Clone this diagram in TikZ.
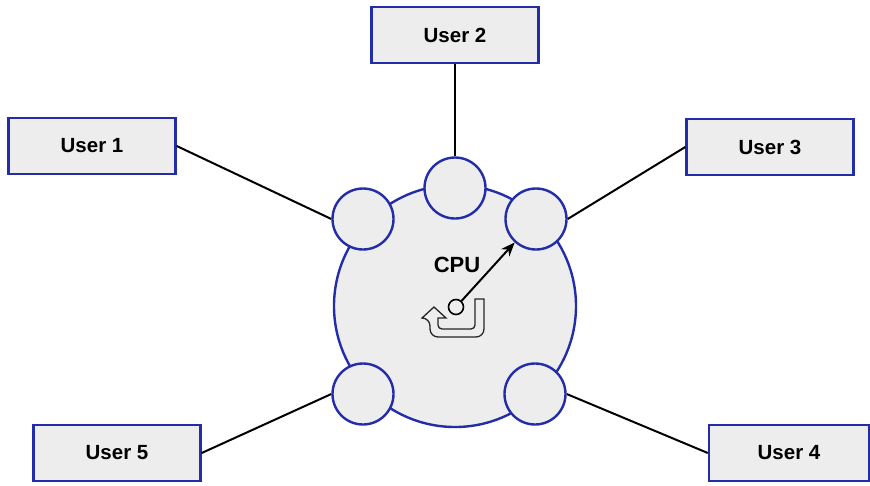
\documentclass[tikz,border=0pt]{standalone}
\usepackage{fontspec}
\setmainfont{Liberation Sans}
\usetikzlibrary{arrows.meta}

\definecolor{boxblue}{RGB}{35,45,170}
\definecolor{boxgray}{RGB}{237,237,237}

\begin{document}
\begin{tikzpicture}[x=1pt, y=-1pt,
    user/.style={draw=boxblue, fill=boxgray, line width=2.4pt, minimum width=167pt, minimum height=56pt, inner sep=0pt, font=\bfseries\fontsize{20.5}{24}\selectfont},
    port/.style={circle, draw=boxblue, fill=boxgray, line width=2.4pt, minimum size=61pt, inner sep=0pt},
    link/.style={line width=2pt}]
    \useasboundingbox (0,0) rectangle (870,485);

    \node[circle, draw=boxblue, fill=boxgray, line width=2.4pt, minimum size=242pt, inner sep=0pt] (cpu) at (455,306) {};

    \node[port] (p1) at (363,219) {};
    \node[port] (p2) at (455,188) {};
    \node[port] (p3) at (536,219) {};
    \node[port] (p4) at (535,394) {};
    \node[port] (p5) at (363,394) {};

    \node[user] (u1) at (92,146) {User 1};
    \node[user] (u2) at (455,35) {User 2};
    \node[user] (u3) at (770,147) {User 3};
    \node[user, minimum width=160pt] (u4) at (789,453) {User 4};
    \node[user] (u5) at (117,453) {User 5};

    \draw[link] (u1.east) -- (p1.west);
    \draw[link] (u2.south) -- (p2.north);
    \draw[link] (u3.west) -- (p3.east);
    \draw[link] (u4.west) -- (p4.east);
    \draw[link] (u5.east) -- (p5.west);

    % scheduler pointer
    \node[circle, draw, fill=boxgray, line width=1.6pt, minimum size=15pt, inner sep=0pt] (hub) at (456,307) {};
    \draw[link, -{Stealth[length=14pt, width=11pt]}] (hub) -- (p3);
    \node[font=\bfseries\fontsize{22}{26}\selectfont] (cpulabel) at (457,265) {CPU};

    % round-robin turn arrow
    \draw[line width=1.3pt, black!85] (475,299) -- (484,299)
        [rounded corners=8pt] -- (484,337) -- (430,337) -- (430,318)
        [sharp corners] -- (422,318) -- (434,307) -- (446,318) -- (438,318)
        [rounded corners=4pt] -- (438,329) -- (475,329) -- (475,310)
        [sharp corners] -- cycle;
\end{tikzpicture}
\end{document}
